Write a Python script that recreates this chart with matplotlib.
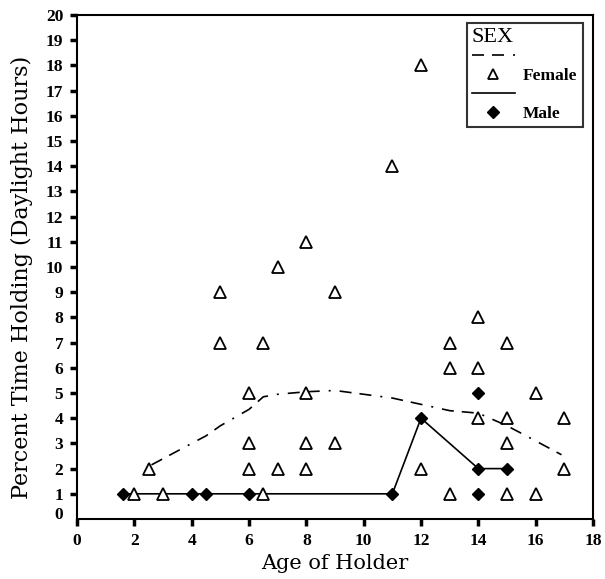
import matplotlib.pyplot as plt
from matplotlib.lines import Line2D
import matplotlib.transforms as mtransforms

# Female observations (age, percent time holding)
female_age = [2, 2.5, 3, 5, 5, 6, 6, 6, 6.5, 6.5, 7, 7, 8, 8, 8, 8, 9, 9,
              11, 12, 12, 13, 13, 13, 14, 14, 14, 15, 15, 15, 15, 16, 16, 17, 17]
female_pct = [1, 2, 1, 9, 7, 5, 3, 2, 7, 1, 10, 2, 11, 5, 3, 2, 9, 3,
              14, 18, 2, 7, 6, 1, 8, 6, 4, 7, 4, 3, 1, 5, 1, 4, 2]

# Male observations
male_age = [1.6, 4, 4.5, 6, 11, 12, 14, 14, 14, 15]
male_pct = [1, 1, 1, 1, 1, 4, 5, 2, 1, 2]

# Male connecting line
male_line_age = [1.6, 11, 12, 14, 15]
male_line_pct = [1, 1, 4, 2, 2]

# Female smoothed curve
fit_age = [2.6, 4, 4.5, 5, 6, 6.5, 7, 8, 9, 10, 11, 12, 13, 14, 15, 16, 16.9]
fit_pct = [2.15, 3.0, 3.3, 3.7, 4.35, 4.85, 4.95, 5.05, 5.1, 4.95, 4.8, 4.55, 4.3, 4.2, 3.7, 3.1, 2.55]

x_ticks = list(range(0, 19, 2))
y_ticks = list(range(0, 21))

plt.rcParams['font.family'] = ['Liberation Serif', 'DejaVu Serif']

fig = plt.figure(figsize=(6.05, 5.79), dpi=100)
ax = fig.add_axes([0.1273, 0.1036, 0.8529, 0.8705])

dash_pat = (7.2, 4.8, 7.2, 5.4, 1.2, 5.4)
ax.plot(fit_age, fit_pct, color='black', lw=1.2, dashes=dash_pat)
ax.plot(male_line_age, male_line_pct, color='black', lw=1.2)
ax.plot(female_age, female_pct, ls='none', marker='^', ms=8, mfc='white',
        mec='black', mew=1.3)
ax.plot(male_age, male_pct, ls='none', marker='D', ms=6.5, color='black')

ax.set_xlim(0, 18)
ax.set_ylim(0, 20)
ax.set_xticks(x_ticks)
ax.set_yticks(y_ticks)
ax.tick_params(direction='out', length=5, width=2.5, labelsize=12.5, pad=5)
for lab in ax.get_xticklabels() + ax.get_yticklabels():
    lab.set_fontweight('bold')
# the y=0 tick has no mark and its label sits a bit higher
ax.yaxis.get_major_ticks()[0].tick1line.set_visible(False)
ylabs = ax.get_yticklabels()
ylabs[0].set_transform(ylabs[0].get_transform() +
                       mtransforms.ScaledTranslation(0, 6 / 100, fig.dpi_scale_trans))
for s in ax.spines.values():
    s.set_linewidth(1.5)

ax.set_xlabel('Age of Holder', fontsize=15, family='DejaVu Serif', labelpad=4)
ax.set_ylabel('Percent Time Holding (Daylight Hours)', fontsize=16, family='DejaVu Serif')
ax.yaxis.set_label_coords(-0.085, 0.48)

handles = [
    Line2D([], [], color='black', lw=1.2, dashes=dash_pat),
    Line2D([], [], ls='none', marker='^', ms=7, mfc='white', mec='black', mew=1.3),
    Line2D([], [], color='black', lw=1.2),
    Line2D([], [], ls='none', marker='D', ms=6, color='black'),
]
leg = ax.legend(handles, ['', 'Female', '', 'Male'], title='SEX', loc='upper right',
                bbox_to_anchor=(0.98, 0.985), fontsize=12.5, title_fontsize=16,
                alignment='left', frameon=True, fancybox=False, edgecolor='black',
                handlelength=2.5, handletextpad=0.45, labelspacing=0.15,
                borderpad=0.3, borderaxespad=0)
leg.get_frame().set_linewidth(1.5)
for t in leg.get_texts():
    t.set_fontweight('bold')

fig.savefig('out.png', dpi=100)
